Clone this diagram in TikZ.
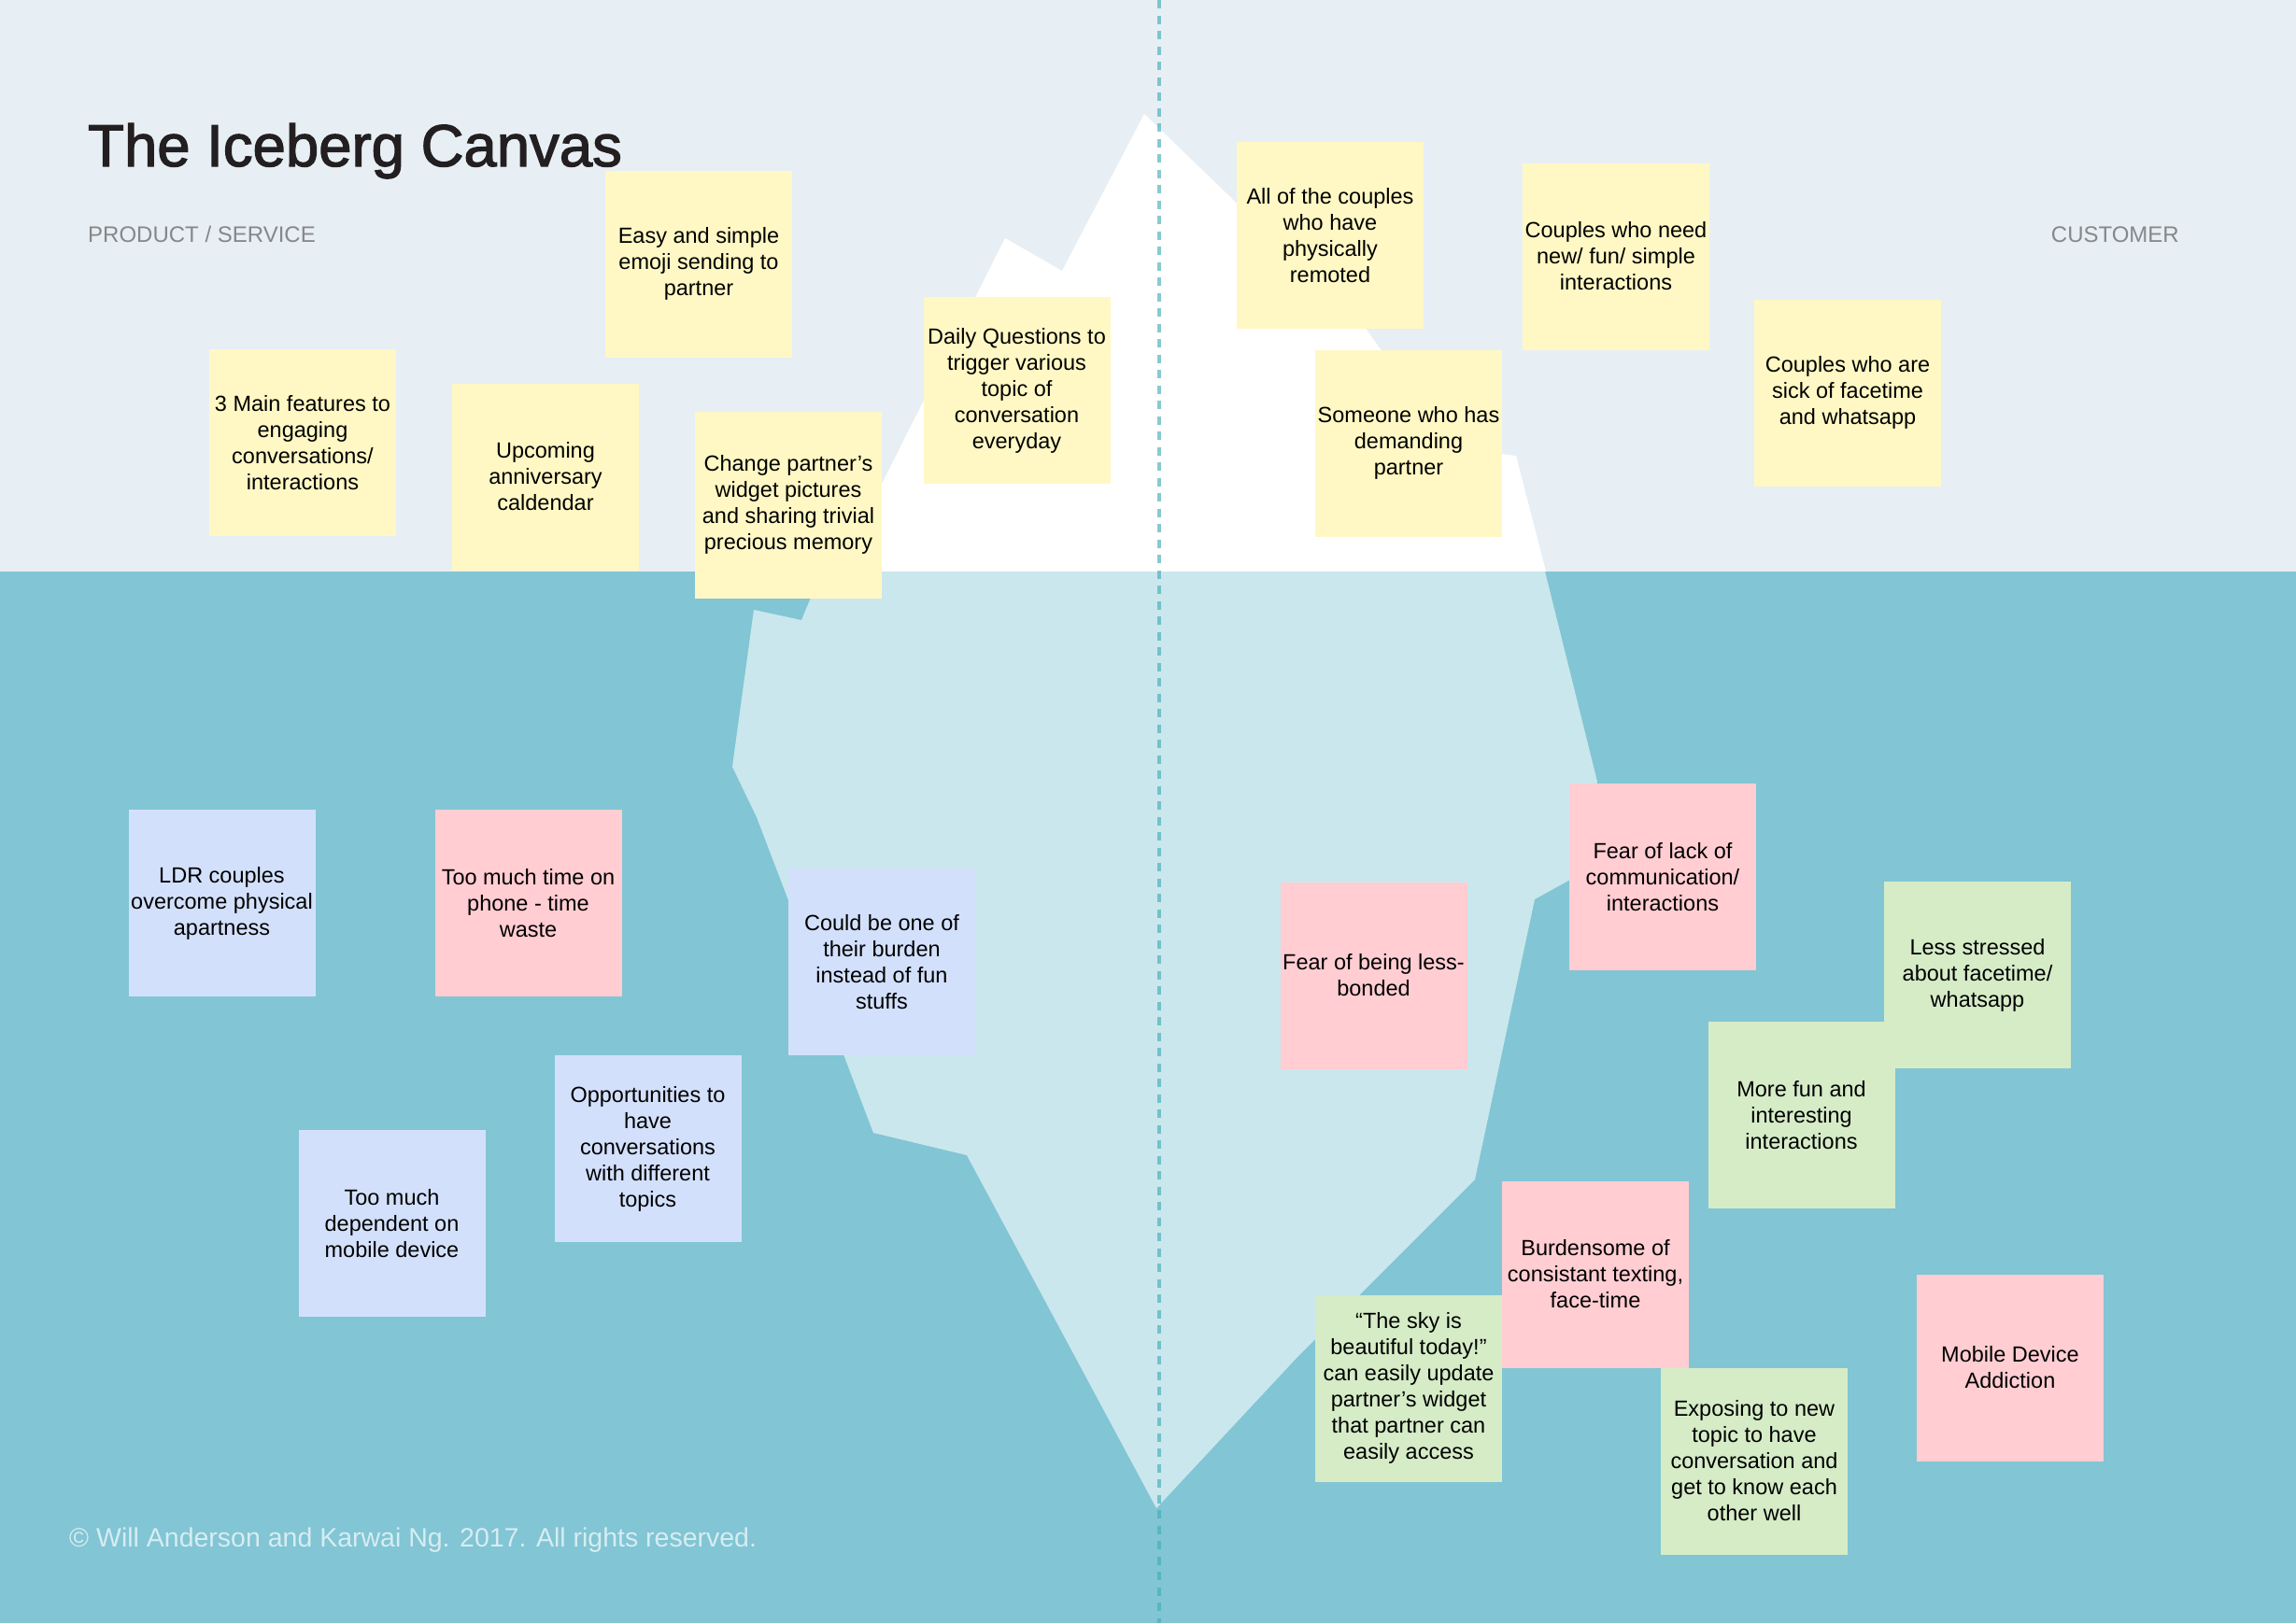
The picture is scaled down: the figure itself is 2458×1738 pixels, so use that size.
\documentclass[tikz,border=0pt]{standalone}
\usepackage{fontspec}
\setmainfont{Liberation Sans}
\newfontfamily\titlefont{Liberation Sans}[FakeBold=2]

\definecolor{sky}{HTML}{E7EFF5}
\definecolor{water}{HTML}{82C5D4}
\definecolor{icewet}{HTML}{CAE7ED}
\definecolor{guide}{HTML}{44ADB6}
\definecolor{headgray}{HTML}{878787}
\definecolor{titleink}{HTML}{231F20}
\definecolor{notice}{HTML}{D6EDF2}
\definecolor{noteyellow}{HTML}{FFF8C4}
\definecolor{noteblue}{HTML}{D3E0FB}
\definecolor{notepink}{HTML}{FFCDD2}
\definecolor{notegreen}{HTML}{D5ECC7}

\begin{document}
\begin{tikzpicture}[x=1pt,y=-1pt,
  note/.style={rectangle, inner sep=0pt, minimum width=200pt, minimum height=200pt,
    align=center, text=black, font=\fontsize{23.5pt}{28pt}\selectfont},
  yellownote/.style={note, fill=noteyellow},
  bluenote/.style={note, fill=noteblue},
  pinknote/.style={note, fill=notepink},
  greennote/.style={note, fill=notegreen},
  heading/.style={inner sep=0pt, text=headgray, font=\fontsize{24pt}{28pt}\selectfont}]

% canvas: sky above, water below
\useasboundingbox (0,0) rectangle (2458,1738);
\fill[sky] (0,0) rectangle (2458,612);
\fill[water] (0,612) rectangle (2458,1738);

% visible tip of the iceberg
\fill[white] (1225,122) -- (1461,350) -- (1477,373) -- (1608,486) -- (1623,488)
  -- (1655,612) -- (897,612) -- (1076,255) -- (1137,290) -- cycle;

% submerged part of the iceberg
\fill[icewet] (930,612) -- (868,640) -- (858,664) -- (807,653) -- (784,821)
  -- (810,875) -- (844,964) -- (903,1129) -- (935,1213) -- (1035,1237)
  -- (1238,1615) -- (1390,1452) -- (1579,1263) -- (1643,963) -- (1690,937)
  -- (1710,837) -- (1654,612) -- cycle;

% dashed divider between product and customer
\coordinate (divtop) at (1241,0);
\coordinate (divbot) at (1241,1738);
\draw[guide, opacity=0.64, line width=4.3pt, dash pattern=on 9pt off 7.5pt] (divtop) -- (divbot);

% headings
\node[anchor=base west, inner sep=0pt, text=titleink,
  font=\titlefont\fontsize{63.5pt}{70pt}\selectfont] (title) at (94,178) {The Iceberg Canvas};
\node[heading, anchor=west] (product) at (94,251) {PRODUCT / SERVICE};
\node[heading, anchor=east] (customer) at (2333,251) {CUSTOMER};

% notes above the waterline
\node[yellownote] (n1) at (324,474) {3 Main features to\\engaging\\conversations/\\interactions};
\node[yellownote] (n2) at (584,510.5) {Upcoming\\anniversary\\caldendar};
\node[yellownote] (n3) at (748,282.5) {Easy and simple\\emoji sending to\\partner};
\node[yellownote] (n4) at (844,540.5) {Change partner’s\\widget pictures\\and sharing trivial\\precious memory};
\node[yellownote] (n5) at (1088.5,418) {Daily Questions to\\trigger various\\topic of\\conversation\\everyday};
\node[yellownote] (n6) at (1424,252) {All of the couples\\who have\\physically\\remoted};
\node[yellownote] (n7) at (1730,274.5) {Couples who need\\new/ fun/ simple\\interactions};
\node[yellownote] (n8) at (1508,474.5) {Someone who has\\demanding\\partner};
\node[yellownote] (n9) at (1978,420.5) {Couples who are\\sick of facetime\\and whatsapp};

% notes below the waterline
\node[bluenote] (n10) at (237.5,967) {LDR couples\\overcome physical\\apartness};
\node[bluenote] (n11) at (944,1030) {Could be one of\\their burden\\instead of fun\\stuffs};
\node[bluenote] (n12) at (693.5,1230) {Opportunities to\\have\\conversations\\with different\\topics};
\node[bluenote] (n13) at (419.5,1310) {Too much\\dependent on\\mobile device};
\node[pinknote] (n14) at (565.5,967) {Too much time on\\phone - time\\waste};
\node[pinknote] (n15) at (1470.5,1044.5) {Fear of being less-\\bonded};
\node[pinknote] (n16) at (1780,939) {Fear of lack of\\communication/\\interactions};
\node[pinknote] (n17) at (1708,1364.5) {Burdensome of\\consistant texting,\\face-time};
\node[pinknote] (n18) at (2152,1464.5) {Mobile Device\\Addiction};
\node[greennote] (n19) at (2117,1044) {Less stressed\\about facetime/\\whatsapp};
\node[greennote] (n20) at (1928.5,1194) {More fun and\\interesting\\interactions};
\node[greennote] (n21) at (1508,1486.5) {“The sky is\\beautiful today!”\\can easily update\\partner’s widget\\that partner can\\easily access};
\node[greennote] (n22) at (1878,1564.5) {Exposing to new\\topic to have\\conversation and\\get to know each\\other well};

% footer
\node[anchor=base west, inner sep=0pt, text=notice, font=\fontsize{28.5pt}{32pt}\selectfont]
  (copy) at (74,1656) {© Will Anderson and Karwai Ng. 2017. All rights reserved.};
\end{tikzpicture}
\end{document}
